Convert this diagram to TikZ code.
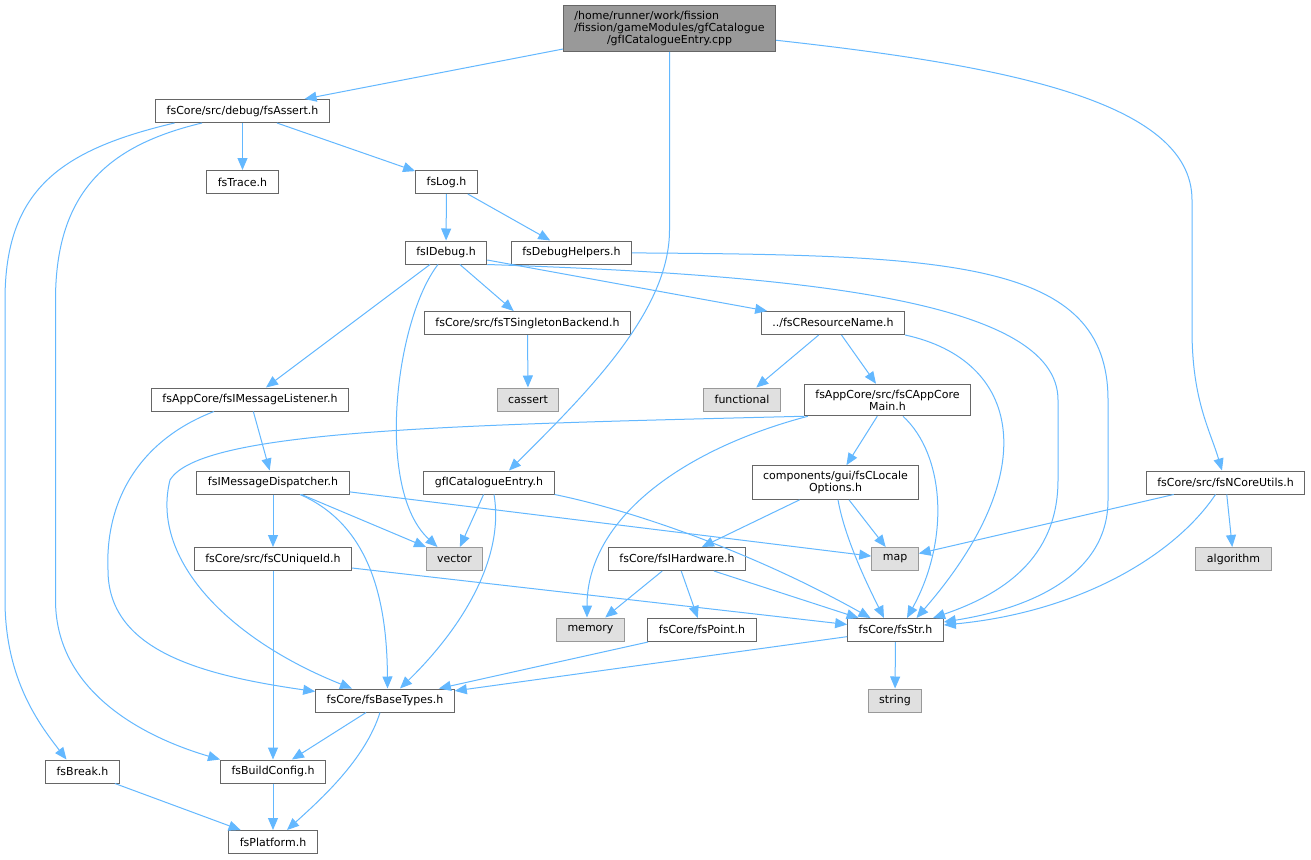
\documentclass[tikz,border=0pt]{standalone}
\usepackage{fontspec}
\setmainfont{DejaVu Sans}
\usepackage{tikz}
\usetikzlibrary{arrows.meta}

\definecolor{edgeblue}{HTML}{63B8FF}
\definecolor{boxline}{HTML}{666666}
\definecolor{sysfill}{HTML}{E0E0E0}
\definecolor{sysline}{HTML}{999999}

\tikzset{
	hdr/.style={draw=boxline,fill=white,line width=1pt,inner xsep=11pt,inner ysep=5.5pt,minimum height=23pt,align=center,font=\fontsize{11}{12}\selectfont},
	sys/.style={hdr,draw=sysline,fill=sysfill},
	src/.style={hdr,draw=boxline,fill=sysline},
	inc/.style={draw=edgeblue,line width=1pt,-{Triangle[length=12pt,width=10pt]}},
}

\begin{document}
\begin{tikzpicture}[x=1pt,y=-1pt]
			\useasboundingbox (0,0) rectangle (1311,859);
			\fill[white] (0,0) rectangle (1311,859);

				% the file itself
				\node[src] (cpp) at(669.5,28.5){\rlap{/home/runner/work/fission}\phantom{/fission/gameModules/gfCatalogue}\\/fission/gameModules/gfCatalogue\\/gfICatalogueEntry.cpp};

				% headers
				\node[hdr] (fsAssert) at(242.5,111){fsCore/src/debug/fsAssert.h};
				\node[hdr] (fsTrace) at(242.5,182){fsTrace.h};
				\node[hdr] (fsLog) at(446.5,182){fsLog.h};
				\node[hdr] (fsIDebug) at(446,252.5){fsIDebug.h};
				\node[hdr] (fsDbgHelp) at(571.5,252.5){fsDebugHelpers.h};
				\node[hdr] (fsTSingleton) at(527.5,323){fsCore/src/fsTSingletonBackend.h};
				\node[hdr] (fsCResName) at(833,323){../fsCResourceName.h};
				\node[hdr] (fsIMsgListener) at(250,399.5){fsAppCore/fsIMessageListener.h};
				\node[hdr] (fsCAppCore) at(887.5,400){fsAppCore/src/fsCAppCore\\Main.h};
				\node[hdr] (fsIMsgDispatcher) at(273,482.5){fsIMessageDispatcher.h};
				\node[hdr] (gfEntry) at(489,482.5){gfICatalogueEntry.h};
				\node[hdr] (fsCLocale) at(835.5,482.5){components/gui/fsCLocale\\Options.h};
				\node[hdr] (fsNCoreUtils) at(1225.5,482.5){fsCore/src/fsNCoreUtils.h};
				\node[hdr] (fsCUniqueId) at(273,559){fsCore/src/fsCUniqueId.h};
				\node[hdr] (fsIHardware) at(677,559){fsCore/fsIHardware.h};
				\node[hdr] (fsPoint) at(702,630){fsCore/fsPoint.h};
				\node[hdr] (fsStr) at(895.5,630){fsCore/fsStr.h};
				\node[hdr] (fsBaseTypes) at(385,700.5){fsCore/fsBaseTypes.h};
				\node[hdr] (fsBreak) at(82.5,771.5){fsBreak.h};
				\node[hdr] (fsBuildConfig) at(273,771.5){fsBuildConfig.h};
				\node[hdr] (fsPlatform) at(273,842){fsPlatform.h};

				% system headers
				\node[sys] (cassert) at(528,399.5){cassert};
				\node[sys] (functional) at(742,399.5){functional};
				\node[sys] (vector) at(454.5,559){vector};
				\node[sys] (map) at(895,559){map};
				\node[sys] (algorithm) at(1233.5,559){algorithm};
				\node[sys] (memory) at(590.5,629.5){memory};
				\node[sys] (string) at(895,700.5){string};

				% includes of the .cpp
				\draw[inc] (cpp) -- (fsAssert);
				\draw[inc] (cpp) -- (669.5,230) .. controls (669.5,310) and (590,390) .. ([xshift=20pt]gfEntry.north);
				\draw[inc] (cpp) .. controls (1000,65) and (1192,100) .. (1192,200) -- (1192,330) .. controls (1192,400) and (1210,430) .. (fsNCoreUtils);

				% fsAssert.h
				\draw[inc] (fsAssert) -- (fsTrace);
				\draw[inc] (fsAssert) -- (fsLog);
				\draw[inc] ([xshift=-68pt]fsAssert.south) .. controls (60,150) and (5,190) .. (5,300) -- (5,600) .. controls (5,680) and (40,725) .. ([xshift=-16pt]fsBreak.north);
				\draw[inc] ([xshift=-40.5pt]fsAssert.south) .. controls (110,145) and (55.5,190) .. (55.5,300) -- (55.5,600) .. controls (55.5,700) and (160,742) .. (fsBuildConfig.north west);

				% fsLog.h
				\draw[inc] (fsLog) -- (fsIDebug);
				\draw[inc] (fsLog) -- (fsDbgHelp);

				% fsIDebug.h
				\draw[inc] (fsIDebug) -- (fsIMsgListener);
				\draw[inc] ([xshift=-8pt]fsIDebug.south) .. controls (395,320) and (375,490) .. ([xshift=-17pt]vector.north);
				\draw[inc] (fsIDebug) -- (fsTSingleton);
				\draw[inc] (fsIDebug) -- (fsCResName);
				\draw[inc] (fsIDebug.south east) .. controls (800,275) and (1058,300) .. (1058,400) -- (1058,480) .. controls (1058,560) and (1000,595) .. ([xshift=37.5pt]fsStr.north);

				\draw[inc] (fsDbgHelp) .. controls (950,255) and (1108,260) .. (1108,400) -- (1108,500) .. controls (1108,580) and (1020,610) .. ([yshift=8pt]fsStr.east);
				\draw[inc] (fsTSingleton) -- (cassert);

				% fsCResourceName.h
				\draw[inc] (fsCResName) -- (functional);
				\draw[inc] (fsCResName) -- (fsCAppCore);
				\draw[inc] (fsCResName.south east) .. controls (1020,360) and (1045,470) .. ([xshift=21pt]fsStr.north);

				% fsCAppCoreMain.h
				\draw[inc] (fsCAppCore) -- (fsCLocale);
				\draw[inc] ([xshift=4pt]fsCAppCore.south west) .. controls (680,450) and (587,520) .. ([xshift=-3.5pt]memory.north);
				\draw[inc] (fsCAppCore.south west) .. controls (450,425) and (200,430) .. (170,480) .. controls (150,560) and (230,640) .. ([xshift=-33pt]fsBaseTypes.north);
				\draw[inc] ([xshift=15.5pt]fsCAppCore.south) .. controls (945,455) and (950,540) .. ([xshift=11.5pt]fsStr.north);

				% fsCLocaleOptions.h
				\draw[inc] (fsCLocale) -- (fsIHardware);
				\draw[inc] (fsCLocale) -- (map);
				\draw[inc] ([xshift=2.5pt]fsCLocale.south) .. controls (845,540) and (870,590) .. ([xshift=-11.5pt]fsStr.north);

				% fsIHardware.h
				\draw[inc] (fsIHardware) -- (memory);
				\draw[inc] (fsIHardware) -- (fsPoint);
				\draw[inc] (fsIHardware) -- (fsStr);

				% fsNCoreUtils.h
				\draw[inc] (fsNCoreUtils) -- (map);
				\draw[inc] (fsNCoreUtils) -- (algorithm);
				\draw[inc] ([xshift=-10pt]fsNCoreUtils.south) .. controls (1175,555) and (1080,612) .. ([yshift=5pt]fsStr.east);

				% message listener / dispatcher
				\draw[inc] (fsIMsgListener) -- (fsIMsgDispatcher);
				\draw[inc] ([xshift=-36pt]fsIMsgListener.south) .. controls (140,440) and (105,500) .. (108,570) .. controls (108,650) and (200,675) .. ([yshift=-3pt]fsBaseTypes.north west);
				\draw[inc] (fsIMsgDispatcher) -- (fsCUniqueId);
				\draw[inc] (fsIMsgDispatcher) -- (vector);
				\draw[inc] (fsIMsgDispatcher) -- (map);
				\draw[inc] ([xshift=27pt]fsIMsgDispatcher.south) .. controls (370,525) and (387,600) .. ([xshift=2.5pt]fsBaseTypes.north);

				% gfICatalogueEntry.h
				\draw[inc] (gfEntry) -- (vector);
				\draw[inc] ([xshift=5pt]gfEntry.south) .. controls (505,560) and (460,630) .. ([xshift=15pt]fsBaseTypes.north);
				\draw[inc] (gfEntry.south east) .. controls (640,512) and (760,556) .. ([xshift=-25pt]fsStr.north);

				% lower levels
				\draw[inc] (fsCUniqueId) -- (fsBuildConfig);
				\draw[inc] (fsCUniqueId) -- (fsStr);
				\draw[inc] (fsPoint) -- (fsBaseTypes);
				\draw[inc] (fsStr) -- (fsBaseTypes);
				\draw[inc] (fsStr) -- (string);
				\draw[inc] (fsBaseTypes) -- (fsBuildConfig);
				\draw[inc] ([xshift=-5pt]fsBaseTypes.south) .. controls (365,760) and (320,800) .. ([xshift=14pt]fsPlatform.north);
				\draw[inc] (fsBuildConfig) -- (fsPlatform);
				\draw[inc] (fsBreak) -- (fsPlatform);

		\end{tikzpicture}
\end{document}
